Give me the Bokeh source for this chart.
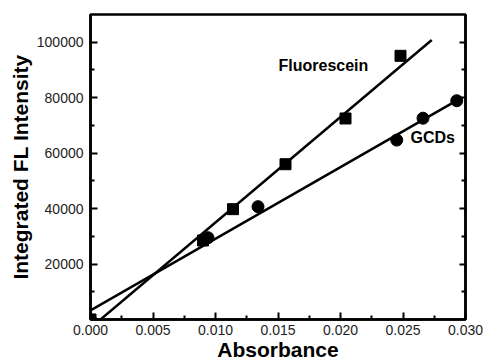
from bokeh.plotting import figure
from bokeh.models import (Range1d, FixedTicker, LinearAxis, PrintfTickFormatter,
                          CustomLabelingPolicy)
from bokeh.core.properties import value
from bokeh.embed import file_html
from bokeh.resources import INLINE

# Data
abs_fluo = [0.0, 0.0090, 0.0114, 0.0156, 0.0204, 0.0248]
int_fluo = [0, 28500, 39800, 56000, 72500, 95100]
abs_gcd = [0.0, 0.0094, 0.0134, 0.0245, 0.0266, 0.0293]
int_gcd = [0, 29500, 40700, 64700, 72600, 78900]

fit_fluo_x = [0.0003, 0.0273]
fit_fluo_y = [-1900, 100800]
fit_gcd_x = [0.0, 0.0297]
fit_gcd_y = [3300, 80000]

x_ticks = [0.0, 0.005, 0.010, 0.015, 0.020, 0.025, 0.030]
x_minor = [0.0025, 0.0075, 0.0125, 0.0175, 0.0225, 0.0275]
y_ticks = [20000, 40000, 60000, 80000, 100000]
y_minor = [10000, 30000, 50000, 70000, 90000]

FONT = "Liberation Sans"

p = figure(width=485, height=364, output_backend="svg", toolbar_location=None,
           x_range=Range1d(0, 0.030), y_range=Range1d(0, 110000),
           min_border_left=90, min_border_top=14, min_border_right=20,
           min_border_bottom=45)
p.background_fill_color = "white"
p.border_fill_color = "white"
p.outline_line_color = "black"
p.outline_line_width = 2.5
p.xgrid.visible = False
p.ygrid.visible = False

for ax in (p.xaxis[0], p.yaxis[0]):
    ax.axis_line_width = 2.5
    ax.major_tick_in = 7
    ax.major_tick_out = 0
    ax.minor_tick_in = 4
    ax.minor_tick_out = 0
    ax.major_tick_line_width = 2
    ax.minor_tick_line_width = 2
    ax.major_label_text_font = FONT
    ax.major_label_text_font_size = "14px"
    ax.major_label_text_color = "#222222"
    ax.axis_label_text_font = FONT
    ax.axis_label_text_font_style = "bold"
    ax.axis_label_text_font_size = "21px"
    ax.axis_label_text_color = "black"

p.xaxis[0].ticker = FixedTicker(ticks=x_ticks, minor_ticks=x_minor)
p.xaxis[0].formatter = PrintfTickFormatter(format="%.3f")
p.xaxis[0].axis_label = "Absorbance"
p.xaxis[0].major_label_standoff = 5
p.xaxis[0].axis_label_standoff = 0

p.yaxis[0].ticker = FixedTicker(ticks=y_ticks, minor_ticks=y_minor)
p.yaxis[0].formatter = PrintfTickFormatter(format="%d")
p.yaxis[0].axis_label = "Integrated FL Intensity"
p.yaxis[0].major_label_standoff = 7
p.yaxis[0].axis_label_standoff = 2

no_labels = CustomLabelingPolicy(code="""
for (const i of indices) { indices.unset(i) }
return indices
""")
right = LinearAxis(ticker=FixedTicker(ticks=y_ticks, minor_ticks=y_minor),
                   major_label_policy=no_labels, major_label_standoff=0,
                   major_label_text_font_size="1px",
                   axis_label_standoff=0,
                   axis_line_width=2.5, major_tick_in=6, major_tick_out=0,
                   minor_tick_in=4, minor_tick_out=0,
                   major_tick_line_width=2, minor_tick_line_width=2)
p.add_layout(right, "right")

p.line(fit_fluo_x, fit_fluo_y, line_color="black", line_width=2.5)
p.line(fit_gcd_x, fit_gcd_y, line_color="black", line_width=2.5)

p.scatter(abs_fluo, int_fluo, marker="square", size=11, color="black")
p.scatter(abs_gcd, int_gcd, marker="circle", size=12, color="black")

p.text(x=[0.01504], y=[91660], text=["Fluorescein"], text_font=value(FONT),
       text_font_style="bold", text_font_size="16px", text_color="black",
       text_baseline="middle", text_align="left")
p.text(x=[0.0256], y=[65670], text=["GCDs"], text_font=value(FONT),
       text_font_style="bold", text_font_size="16px", text_color="black",
       text_baseline="middle", text_align="left")

open("out.html", "w").write(file_html(p, INLINE))
